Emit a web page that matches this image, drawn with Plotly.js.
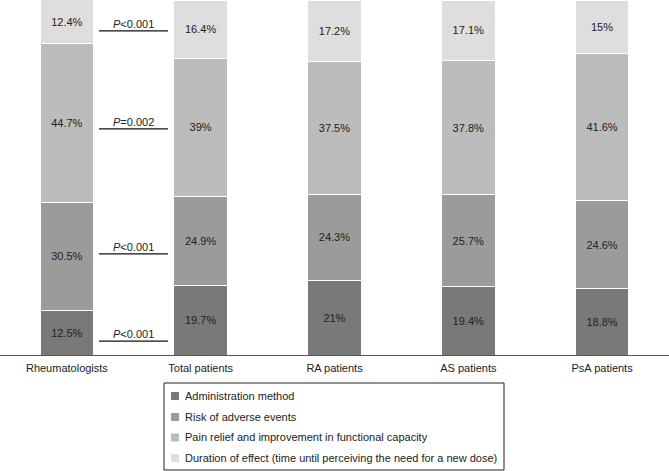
<!DOCTYPE html>
<html>
<head>
<meta charset="utf-8">
<script src="https://cdn.plot.ly/plotly-3.0.1.min.js"></script>
<style>html,body{margin:0;padding:0;background:#fff;}#chart{width:669px;height:471px;}</style>
</head>
<body>
<div id="chart"></div>
<script>
// ---- data ----
const categories = ['Rheumatologists', 'Total patients', 'RA patients', 'AS patients', 'PsA patients'];
const seriesNames = [
  'Administration method',
  'Risk of adverse events',
  'Pain relief and improvement in functional capacity',
  'Duration of effect (time until perceiving the need for a new dose)'
];
const administration = [12.5, 19.7, 21, 19.4, 18.8];
const adverseEvents  = [30.5, 24.9, 24.3, 25.7, 24.6];
const painRelief     = [44.7, 39, 37.5, 37.8, 41.6];
const duration       = [12.4, 16.4, 17.2, 17.1, 15];
const pValues = ['<i>P</i>&lt;0.001', '<i>P</i>=0.002', '<i>P</i>&lt;0.001', '<i>P</i>&lt;0.001'];

// ---- styling ----
const colors = ['#797979', '#9b9b9b', '#bcbcbc', '#dedede'];
const W = 669, H = 471, PLOT_H = 355;
const FONT = 'Liberation Sans, Arial, sans-serif';
const seriesValues = [administration, adverseEvents, painRelief, duration];

const traces = seriesValues.map((vals, i) => ({
  type: 'bar',
  name: seriesNames[i],
  x: categories,
  y: vals,
  width: 0.4,
  marker: { color: colors[i], line: { color: '#ffffff', width: 1 } },
  texttemplate: '%{y}%',
  textposition: 'inside',
  insidetextanchor: 'middle',
  textangle: 0,
  textfont: { family: FONT, size: 11, color: '#222222' },
  showlegend: false,
  hoverinfo: 'x+y+name'
}));

// p-value line positions (data y, top to bottom)
const pLineY = [91.3, 63.7, 28.5, 3.9];
const shapes = [];
const annotations = [];
pValues.forEach((t, i) => {
  shapes.push({ type: 'line', xref: 'x', yref: 'y', x0: 0.24, x1: 0.755, y0: pLineY[i], y1: pLineY[i],
    line: { color: '#111111', width: 1.2 } });
  annotations.push({ xref: 'x', yref: 'y', x: 0.5, y: pLineY[i], yanchor: 'bottom', xanchor: 'center',
    text: t, showarrow: false, yshift: -1, font: { family: FONT, size: 11, color: '#222222' } });
});

// manual legend (pixel -> paper conversion)
const px2x = p => p / W;
const py2y = p => (PLOT_H - p) / PLOT_H;
shapes.push({ type: 'rect', xref: 'paper', yref: 'paper', x0: px2x(164), x1: px2x(504), y0: py2y(383), y1: py2y(470),
  line: { color: '#222222', width: 1 }, fillcolor: '#ffffff' });
const rowY = [396, 417, 437.5, 458];
seriesNames.forEach((n, i) => {
  shapes.push({ type: 'rect', xref: 'paper', yref: 'paper', x0: px2x(171), x1: px2x(179),
    y0: py2y(rowY[i] - 4), y1: py2y(rowY[i] + 4), line: { width: 0 }, fillcolor: colors[i] });
  annotations.push({ xref: 'paper', yref: 'paper', x: px2x(183), y: py2y(rowY[i]), xanchor: 'left', yanchor: 'middle',
    text: n, showarrow: false, font: { family: FONT, size: 11, color: '#222222' } });
});

const layout = {
  width: W, height: H,
  margin: { l: 0, r: 0, t: 0, b: H - PLOT_H, pad: 0 },
  paper_bgcolor: '#ffffff', plot_bgcolor: '#ffffff',
  barmode: 'stack',
  bargap: 0.6,
  font: { family: FONT, size: 11, color: '#222222' },
  xaxis: {
    type: 'category', range: [-0.5, 4.5], showline: true, linecolor: '#555555', linewidth: 1,
    showgrid: false, zeroline: false, ticks: '', fixedrange: true, ticklabelstandoff: 3,
    tickfont: { family: FONT, size: 11, color: '#222222' }
  },
  yaxis: { range: [0, 100], visible: false, fixedrange: true },
  shapes: shapes,
  annotations: annotations,
  showlegend: false
};

Plotly.newPlot('chart', traces, layout, { displayModeBar: false, staticPlot: true });
</script>
</body>
</html>
